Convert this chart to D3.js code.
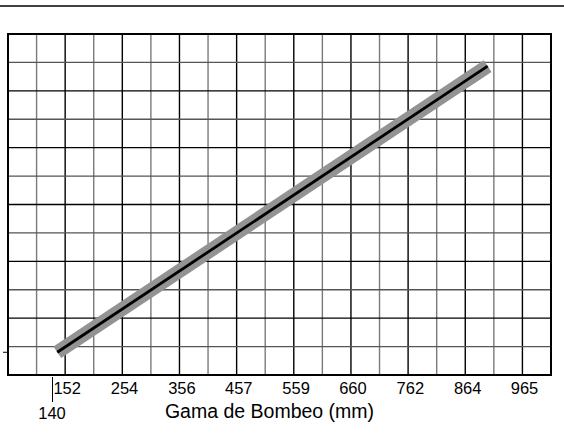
<!DOCTYPE html>
<html>
<head>
<meta charset="utf-8">
<script src="https://cdn.jsdelivr.net/npm/d3@7"></script>
<style>
  html, body { margin: 0; padding: 0; background: #fff; }
  svg { display: block; }
  text { font-family: "Liberation Sans", Arial, Helvetica, sans-serif; fill: #000; }
</style>
</head>
<body>
<svg id="chart" width="564" height="438"></svg>
<script>
// ---- data ----
const xTickLabels = [152, 254, 356, 457, 559, 660, 762, 864, 965]; // mm
const xDomain = [50.4, 1015.6];          // mm at left/right frame
const gridStepMm = 50.8;                 // 2 in grid
const yRows = [0, 12];                   // unitless grid rows
const lineX = [138, 903];                // pump range, mm
const lineY = [0.8, 10.87];              // rows
const startTickLabel = "140";
const axisTitle = "Gama de Bombeo (mm)";

(function () {
// ---- layout ----
const svg = d3.select("#chart");
const mLeft = 8, mRight = 551, mTop = 34, mBottom = 375;

const x = d3.scaleLinear().domain(xDomain).range([mLeft, mRight]);
const y = d3.scaleLinear().domain(yRows).range([mBottom, mTop]);

// top rule
svg.append("line").attr("x1", 0).attr("x2", 564).attr("y1", 6).attr("y2", 6)
  .attr("stroke", "#000").attr("stroke-width", 1.5);

// grid
const nCols = Math.round((xDomain[1] - xDomain[0]) / gridStepMm);
const vIdx = d3.range(1, nCols);
const hIdx = d3.range(yRows[0] + 1, yRows[1]);
const g = svg.append("g");
g.selectAll("line.v").data(vIdx).join("line")
  .attr("x1", i => x(xDomain[0] + i * gridStepMm)).attr("x2", i => x(xDomain[0] + i * gridStepMm))
  .attr("y1", mTop).attr("y2", mBottom)
  .attr("stroke", i => i % 2 === 0 ? "#000" : "#7a7a7a")
  .attr("stroke-width", 1.4);
g.selectAll("line.h").data(hIdx).join("line")
  .attr("y1", i => y(i)).attr("y2", i => y(i))
  .attr("x1", mLeft).attr("x2", mRight)
  .attr("stroke", i => i % 2 === 0 ? "#000" : "#555")
  .attr("stroke-width", 1.4);

// frame
svg.append("rect").attr("x", mLeft).attr("y", mTop)
  .attr("width", mRight - mLeft).attr("height", mBottom - mTop)
  .attr("fill", "none").attr("stroke", "#000").attr("stroke-width", 2);

// line (band + center)
const pts = lineX.map((v, i) => [x(v), y(lineY[i])]);
const lineGen = d3.line();
svg.append("path").attr("d", lineGen(pts))
  .attr("stroke", "#939393").attr("stroke-width", 14).attr("fill", "none").attr("stroke-linecap", "butt");
svg.append("path").attr("d", lineGen(pts))
  .attr("stroke", "#000").attr("stroke-width", 2.8).attr("fill", "none").attr("stroke-linecap", "butt");

// x tick labels
svg.selectAll("text.xt").data(xTickLabels).join("text")
  .attr("x", d => x(d) + 2).attr("y", 394)
  .attr("text-anchor", "middle").attr("font-size", 16.5)
  .text(d => d);

// start markers
svg.append("line").attr("x1", 52.5).attr("x2", 52.5)
  .attr("y1", mBottom + 2).attr("y2", 402)
  .attr("stroke", "#000").attr("stroke-width", 1);
svg.append("text").attr("x", 52).attr("y", 419)
  .attr("text-anchor", "middle").attr("font-size", 16.5).text(startTickLabel);
svg.append("line").attr("x1", 3).attr("x2", mLeft)
  .attr("y1", y(lineY[0])).attr("y2", y(lineY[0]))
  .attr("stroke", "#000").attr("stroke-width", 1);

// axis title
svg.append("text").attr("x", 269.5).attr("y", 418)
  .attr("text-anchor", "middle").attr("font-size", 19.5).text(axisTitle);
})();
</script>
</body>
</html>
